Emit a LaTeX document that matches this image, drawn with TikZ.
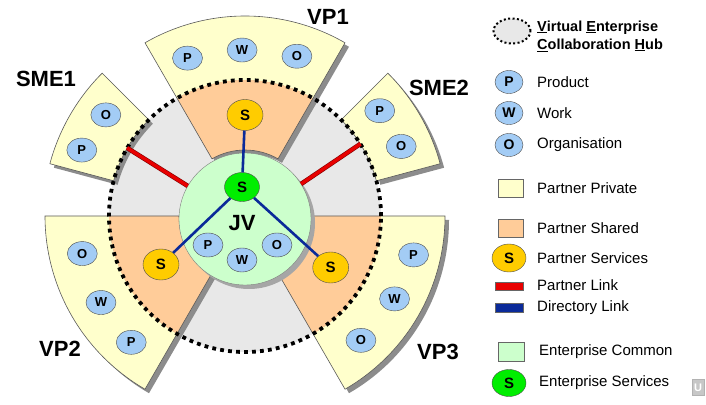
\documentclass[tikz,border=0pt]{standalone}
\usepackage{fontspec}
\setmainfont{Liberation Sans}
\usetikzlibrary{shapes.geometric}

\definecolor{privyellow}{HTML}{FFFFCC}
\definecolor{sharedorange}{HTML}{FFCC99}
\definecolor{hubgrey}{HTML}{E8E8E8}
\definecolor{commongreen}{HTML}{CCFFCC}
\definecolor{infoblue}{HTML}{A3CCF5}
\definecolor{servyellow}{HTML}{FFCC00}
\definecolor{servgreen}{HTML}{00EE00}
\definecolor{linkred}{HTML}{E80000}
\definecolor{linkblue}{HTML}{0A2A99}
\definecolor{shadowgrey}{HTML}{8C8C8C}

% 扇形の輪
\newcommand{\ringsector}[4]{(#1:#3) arc[start angle=#1, end angle=#2, radius=#3] -- (#2:#4) arc[start angle=#2, end angle=#1, radius=#4] -- cycle}

\tikzset{
  info/.style={ellipse, draw=black!70, fill=infoblue, minimum width=30pt, minimum height=24pt, inner sep=0pt, font=\fontsize{13}{13}\selectfont\bfseries},
  psvc/.style={ellipse, draw=black!70, fill=servyellow, minimum width=36pt, minimum height=31pt, inner sep=0pt, font=\fontsize{15}{15}\selectfont\bfseries},
  esvc/.style={psvc, fill=servgreen, minimum width=35pt, minimum height=29pt},
  tag/.style={font=\fontsize{22}{22}\selectfont\bfseries},
  legtext/.style={anchor=west, inner sep=0pt, font=\fontsize{15}{15}\selectfont},
  swatch/.style={draw=black!60, minimum width=25pt, minimum height=18pt, inner sep=0pt},
  edge/.style={draw=black!65, line width=0.6pt},
  hubedge/.style={line width=3.8pt, dash pattern=on 3.8pt off 4.2pt},
  plink/.style={draw=linkred!55!black, line width=0.6pt, double=linkred, double distance=3.4pt},
  dlink/.style={draw=linkblue, line width=2.6pt}
}

\begin{document}
\begin{tikzpicture}[x=1pt,y=1pt]
  \useasboundingbox (0,0) rectangle (706,404);

  % ハブ
  \node[circle, fill=hubgrey, minimum size=272pt, inner sep=0pt] (hub) at (245,188) {};

  \begin{scope}[shift={(245,188)}]
    % 影
    \fill[shadowgrey, shift={(4,-4)}] \ringsector{60}{120}{66pt}{200pt};
    \fill[shadowgrey, shift={(4,-4)}] \ringsector{180}{240}{66pt}{200pt};
    \fill[shadowgrey, shift={(4,-4)}] \ringsector{300}{360}{66pt}{200pt};
    \fill[shadowgrey, shift={(4,-4)}] \ringsector{135}{165}{136pt}{202pt};
    \fill[shadowgrey, shift={(4,-4)}] \ringsector{15}{45}{136pt}{202pt};

    % パートナー
    \fill[privyellow] \ringsector{60}{120}{136pt}{200pt};
    \fill[sharedorange] \ringsector{60}{120}{66pt}{136pt};
    \draw[edge] \ringsector{60}{120}{66pt}{200pt};
    \fill[privyellow] \ringsector{180}{240}{136pt}{200pt};
    \fill[sharedorange] \ringsector{180}{240}{66pt}{136pt};
    \draw[edge] \ringsector{180}{240}{66pt}{200pt};
    \fill[privyellow] \ringsector{300}{360}{136pt}{200pt};
    \fill[sharedorange] \ringsector{300}{360}{66pt}{136pt};
    \draw[edge] \ringsector{300}{360}{66pt}{200pt};
    \fill[privyellow] \ringsector{135}{165}{136pt}{202pt};
    \draw[edge] \ringsector{135}{165}{136pt}{202pt};
    \fill[privyellow] \ringsector{15}{45}{136pt}{202pt};
    \draw[edge] \ringsector{15}{45}{136pt}{202pt};
  \end{scope}

  % JV
  \fill[black!35] (249,181) circle[radius=66pt];
  \node[circle, fill=commongreen, draw=black!50, minimum size=132pt, inner sep=0pt] (jv) at (245,185) {};
  \draw[hubedge] (hub.center) circle[radius=136pt];

  % 線を引く
  \draw[plink] (jv.150) -- (hub.150);
  \draw[plink] (jv.32) -- (hub.32);

  % 値を入れる
  \begin{scope}[shift={(245,188)}]
    \node[info] (vp1p) at (110:168pt) {P};
    \node[info] (vp1w) at (91:166pt) {W};
    \node[info] (vp1o) at (72:168pt) {O};
    \node[info] (sme1o) at (144:172pt) {O};
    \node[info] (sme1p) at (158:176pt) {P};
    \node[info] (sme2p) at (38:171pt) {P};
    \node[info] (sme2o) at (24:171pt) {O};
    \node[info] (vp2o) at (193:167pt) {O};
    \node[info] (vp2w) at (211:168pt) {W};
    \node[info] (vp2p) at (228:170pt) {P};
    \node[info] (vp3p) at (-13:173pt) {P};
    \node[info] (vp3w) at (-29:171pt) {W};
    \node[info] (vp3o) at (-47:170pt) {O};
    \node[psvc] (vp1s) at (90:101pt) {S};
    \node[psvc] (vp2s) at (210:97pt) {S};
    \node[psvc] (vp3s) at (-31:100pt) {S};
  \end{scope}
  \node[esvc] (jvs) at (242,217) {S};
  \node[font=\fontsize{22}{22}\selectfont\bfseries] (jvtag) at (242,181) {JV};
  \node[info] (jvp) at (208,159) {P};
  \node[info] (jvw) at (242,144) {W};
  \node[info] (jvo) at (277,159) {O};

  \draw[dlink] (jvs) -- (vp1s);
  \draw[dlink] (jvs) -- (vp2s);
  \draw[dlink] (jvs) -- (vp3s);

  \node[tag] (vp1tag) at (328,387) {VP1};
  \node[tag] (vp2tag) at (60,55) {VP2};
  \node[tag] (vp3tag) at (438,52) {VP3};
  \node[tag] (sme1tag) at (46,325) {SME1};
  \node[tag] (sme2tag) at (439,316) {SME2};

  % 凡例
  \node[ellipse, fill=hubgrey, draw, line width=2pt, dash pattern=on 2pt off 2.4pt, minimum width=37pt, minimum height=25pt] (keyhub) at (512,373) {};
  \node[legtext, align=left, font=\fontsize{14.5}{18}\selectfont\bfseries] (keyhubtext) at (537,368) {\underline{V}irtual \underline{E}nterprise\\\underline{C}ollaboration \underline{H}ub};
  \node[info, minimum width=28pt, minimum height=23pt, font=\fontsize{14}{14}\selectfont\bfseries] (keyp) at (509,322) {P};
  \node[legtext] (keyptext) at (537,322) {Product};
  \node[info, minimum width=28pt, minimum height=23pt, font=\fontsize{14}{14}\selectfont\bfseries] (keyw) at (509,291) {W};
  \node[legtext] (keywtext) at (537,291) {Work};
  \node[info, minimum width=28pt, minimum height=23pt, font=\fontsize{14}{14}\selectfont\bfseries] (keyo) at (509,259) {O};
  \node[legtext] (keyotext) at (537,259) {Organisation};
  \node[swatch, fill=privyellow] (keypriv) at (510.5,215.5) {};
  \node[legtext] (keyprivtext) at (537,216) {Partner Private};
  \node[swatch, fill=sharedorange] (keyshared) at (510.5,176) {};
  \node[legtext] (keysharedtext) at (537,176) {Partner Shared};
  \node[psvc, minimum width=34pt, minimum height=28pt] (keypsvc) at (509,146) {S};
  \node[legtext] (keypsvctext) at (537,146) {Partner Services};
  \node[swatch, fill=linkred, minimum width=28pt, minimum height=8pt] (keyplink) at (509,118) {};
  \node[legtext] (keyplinktext) at (537,119) {Partner Link};
  \node[swatch, fill=linkblue, minimum width=28pt, minimum height=9pt] (keydlink) at (509,96.5) {};
  \node[legtext] (keydlinktext) at (537,96) {Directory Link};
  \node[swatch, fill=commongreen, minimum width=26pt, minimum height=19pt] (keycommon) at (511,52.5) {};
  \node[legtext] (keycommontext) at (539,52) {Enterprise Common};
  \node[esvc, minimum width=34pt, minimum height=27pt] (keyesvc) at (509,21) {S};
  \node[legtext] (keyesvctext) at (539,21) {Enterprise Services};

  \node[draw=black!30, fill=black!22, text=white, minimum width=12pt, minimum height=16pt, inner sep=0pt, font=\fontsize{11}{11}\selectfont\bfseries] (ubtn) at (698,16.5) {U};
\end{tikzpicture}
\end{document}
